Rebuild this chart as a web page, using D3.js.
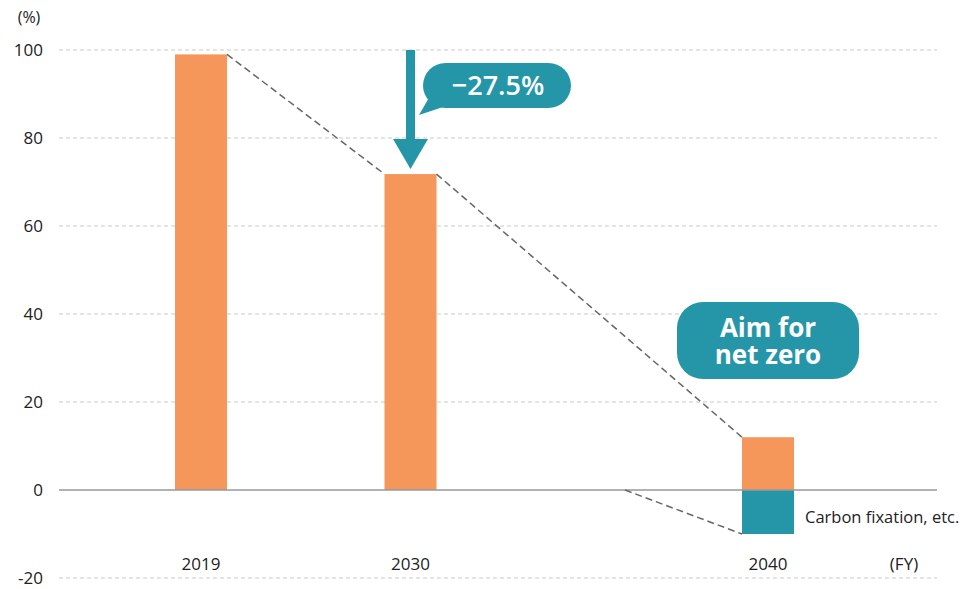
<!DOCTYPE html>
<html>
<head>
<meta charset="utf-8">
<script src="https://cdn.jsdelivr.net/npm/d3@7"></script>
<style>
  html, body { margin: 0; padding: 0; background: #fff; }
  svg { display: block; font-family: "Open Sans", "Noto Sans", sans-serif; }
</style>
</head>
<body>
<svg id="chart" width="967" height="589"></svg>
<script>
// Emission index by fiscal year (2019 = base)
const years = [2019, 2030, 2040];
const emissions = [99, 71.8, 12];          // positive bars
const fixationYears = [2040];
const fixation = [-10];                     // offset by carbon fixation
const yTicks = [-20, 0, 20, 40, 60, 80, 100];
const reductionLabel = "\u221227.5%";
const goalLines = ["Aim for", "net zero"];
const fixationLabel = "Carbon fixation, etc.";
const fixationLineStartYear = 2036;

const orange = "#F5965A";
const teal = "#2596A8";

const svg = d3.select("#chart");

const x = d3.scaleLinear().domain([2019, 2030, 2040]).range([201, 410.5, 768]);
const y = d3.scaleLinear().domain([-20, 100]).range([578, 50]);
const barW = 52;
const left = 59, right = 937;

// gridlines
svg.append("g").selectAll("line")
  .data(yTicks.filter(d => d !== 0))
  .join("line")
  .attr("x1", left).attr("x2", right)
  .attr("y1", d => y(d)).attr("y2", d => y(d))
  .attr("stroke", "#c9c9c9").attr("stroke-width", 1)
  .attr("stroke-dasharray", "4,3");

// y axis labels
const yAxis = d3.axisLeft(y).tickValues(yTicks).tickSize(0).tickPadding(0)
  .tickFormat(d => String(d));
const gy = svg.append("g").attr("transform", "translate(43,0)").call(yAxis);
gy.select(".domain").remove();
gy.selectAll("text")
  .attr("font-size", 17).attr("fill", "#222")
  .attr("font-family", "'Open Sans', sans-serif");

svg.append("text").attr("x", 29).attr("y", 23)
  .attr("text-anchor", "middle").attr("font-size", 16).attr("fill", "#222")
  .text("(%)");

// bars
svg.append("g").selectAll("rect")
  .data(years.map((yr, i) => ({ yr, v: emissions[i] })))
  .join("rect")
  .attr("x", d => x(d.yr) - barW / 2)
  .attr("y", d => y(d.v))
  .attr("width", barW)
  .attr("height", d => y(0) - y(d.v))
  .attr("fill", orange);

svg.append("g").selectAll("rect")
  .data(fixationYears.map((yr, i) => ({ yr, v: fixation[i] })))
  .join("rect")
  .attr("x", d => x(d.yr) - barW / 2)
  .attr("y", y(0))
  .attr("width", barW)
  .attr("height", d => y(d.v) - y(0))
  .attr("fill", teal);

// zero line
svg.append("line")
  .attr("x1", left).attr("x2", right)
  .attr("y1", y(0)).attr("y2", y(0))
  .attr("stroke", "#999").attr("stroke-width", 1.5);

// dashed trend connectors between bar tops
const connectors = [];
for (let i = 0; i < years.length - 1; i++) {
  connectors.push([[x(years[i]) + barW / 2, y(emissions[i])],
                   [x(years[i + 1]) - barW / 2, y(emissions[i + 1])]]);
}
connectors.push([[x(fixationLineStartYear), y(0)],
                 [x(fixationYears[0]) - barW / 2, y(fixation[0])]]);
svg.append("g").selectAll("line")
  .data(connectors)
  .join("line")
  .attr("x1", d => d[0][0]).attr("y1", d => d[0][1])
  .attr("x2", d => d[1][0]).attr("y2", d => d[1][1])
  .attr("stroke", "#666").attr("stroke-width", 1.5)
  .attr("stroke-dasharray", "7,4");

// x labels
svg.append("g").selectAll("text")
  .data(years)
  .join("text")
  .attr("x", d => x(d)).attr("y", 570)
  .attr("text-anchor", "middle").attr("font-size", 17).attr("fill", "#222")
  .text(d => d);
svg.append("text").attr("x", 904).attr("y", 570)
  .attr("text-anchor", "middle").attr("font-size", 17).attr("fill", "#222")
  .text("(FY)");

// reduction arrow at 2030
const ax = x(2030);
svg.append("rect")
  .attr("x", ax - 4.5).attr("y", y(100))
  .attr("width", 9).attr("height", 92)
  .attr("fill", teal);
const tipY = y(emissions[1]) - 5;
svg.append("path")
  .attr("d", `M${ax - 17.5},${tipY - 30} L${ax + 17.5},${tipY - 30} L${ax},${tipY} Z`)
  .attr("fill", teal);

// reduction callout bubble
svg.append("rect")
  .attr("x", 423).attr("y", 63).attr("width", 148).attr("height", 45)
  .attr("rx", 22.5).attr("fill", teal);
svg.append("path")
  .attr("d", "M430,96 L419,115 L446,106 Z")
  .attr("fill", teal);
svg.append("text")
  .attr("x", 498).attr("y", 95)
  .attr("text-anchor", "middle").attr("font-size", 27).attr("font-weight", 600)
  .attr("fill", "#fff")
  .text(reductionLabel);

// net zero goal box
svg.append("rect")
  .attr("x", 677).attr("y", 302).attr("width", 182).attr("height", 77)
  .attr("rx", 26).attr("fill", teal);
svg.append("text")
  .attr("text-anchor", "middle").attr("font-size", 26).attr("font-weight", 700)
  .attr("fill", "#fff")
  .selectAll("tspan")
  .data(goalLines)
  .join("tspan")
  .attr("x", 768).attr("y", (d, i) => 337 + i * 27)
  .text(d => d);

// fixation annotation
svg.append("text")
  .attr("x", 805).attr("y", 523)
  .attr("font-size", 16.5).attr("fill", "#222")
  .text(fixationLabel);
</script>
</body>
</html>
